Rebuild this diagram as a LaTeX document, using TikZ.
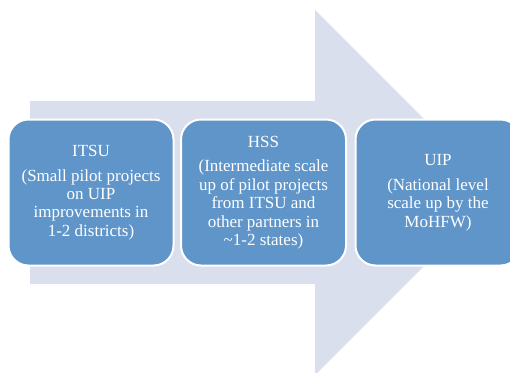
\documentclass[tikz,border=0pt]{standalone}
\usepackage{fontspec}
\setmainfont{Liberation Serif}
\definecolor{arrowfill}{HTML}{DADFEE}
\definecolor{boxfill}{HTML}{6095C9}
\begin{document}
\begin{tikzpicture}[x=1pt,y=-1pt,
  stagebox/.style={draw=white, line width=2pt, fill=boxfill, rounded corners=20pt,
    minimum width=165pt, minimum height=146pt, inner sep=0pt, align=center,
    text=white, font=\fontsize{17}{18.4}\selectfont}]
\useasboundingbox (0,0) rectangle (510,372);
\clip (0,0) rectangle (510,372);
\fill[arrowfill] (30,101) -- (315,101) -- (315,10) -- (497.5,192.5) -- (315,375) -- (315,284) -- (30,284) -- cycle;
\node[stagebox] (itsu) at (91,192.5) {ITSU\\[6.5pt](Small pilot projects\\on UIP\\improvements in\\1-2 districts)};
\node[stagebox] (hss) at (263.5,192.5) {HSS\\[6.5pt](Intermediate scale\\up of pilot projects\\from ITSU and\\other partners in\\\textasciitilde1-2 states)};
\node[stagebox] (uip) at (438,192.5) {UIP\\[6.5pt](National level\\scale up by the\\MoHFW)};
\end{tikzpicture}
\end{document}
